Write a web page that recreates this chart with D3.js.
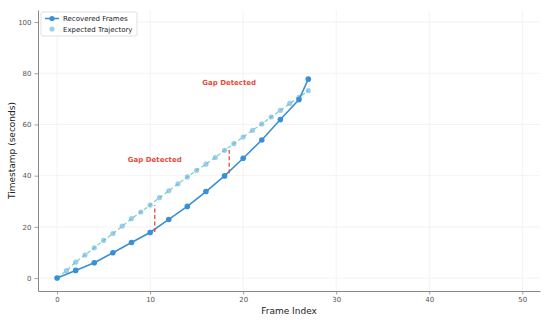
<!DOCTYPE html>
<html>
<head>
<meta charset="utf-8">
<script src="https://d3js.org/d3.v7.min.js"></script>
<style>
  body { margin: 0; background: #fff; }
  text { font-family: "DejaVu Sans", sans-serif; }
</style>
</head>
<body>
<div id="chart"></div>
<script>
// recovered frames (solid line + markers)
const recoveredX = [0, 2, 4, 6, 8, 10, 12, 14, 16, 18, 20, 22, 24, 26, 27];
const recoveredY = [0, 3, 6, 9.9, 13.9, 17.8, 22.9, 28, 33.8, 39.9, 46.8, 53.9, 61.9, 69.7, 77.7];
// expected trajectory (dashed line + scatter)
const expectedX = [0, 1, 2, 3, 4, 5, 6, 7, 8, 9, 10, 11, 12, 13, 14, 15, 16, 17, 18, 19, 20, 21, 22, 23, 24, 25, 26, 27];
const expectedY = [0, 2.9, 6.2, 9, 11.8, 14.7, 17.4, 20.3, 23.2, 25.8, 28.5, 31.4, 34.1, 36.8, 39.5, 42.1, 44.5,
                   47.1, 49.9, 52.5, 55.1, 57.7, 60.2, 62.9, 65.5, 68.2, 70.6, 73.2];
// detected gaps
const gapX = [10.5, 18.5];
const gapLow = [18, 40.9];
const gapHigh = [28.4, 50];
const gapLabelY = [46.5, 76.5];
const xTicks = [0, 10, 20, 30, 40, 50];
const yTicks = [0, 20, 40, 60, 80, 100];

const width = 550, height = 320;
const margin = {top: 10, right: 10, bottom: 29, left: 38};

const svg = d3.select("#chart").append("svg").attr("width", width).attr("height", height);

const x = d3.scaleLinear().domain([-2.05, 51.9]).range([margin.left, width - margin.right]);
const y = d3.scaleLinear().domain([-5.05, 104.7]).range([height - margin.bottom, margin.top]);

// grid
svg.append("g").selectAll("line").data(xTicks).join("line")
    .attr("x1", d => x(d)).attr("x2", d => x(d))
    .attr("y1", y.range()[0]).attr("y2", y.range()[1])
    .attr("stroke", "#ebebeb").attr("stroke-width", 0.6);
svg.append("g").selectAll("line").data(yTicks).join("line")
    .attr("y1", d => y(d)).attr("y2", d => y(d))
    .attr("x1", x.range()[0]).attr("x2", x.range()[1])
    .attr("stroke", "#ebebeb").attr("stroke-width", 0.6);

// axes
const xAxis = svg.append("g").attr("transform", `translate(0,${height - margin.bottom})`)
    .call(d3.axisBottom(x).tickValues(xTicks).tickSize(3.5).tickPadding(3).tickSizeOuter(0));
const yAxis = svg.append("g").attr("transform", `translate(${margin.left},0)`)
    .call(d3.axisLeft(y).tickValues(yTicks).tickSize(3.5).tickPadding(3).tickSizeOuter(0));
[xAxis, yAxis].forEach(a => {
    a.select(".domain").attr("stroke", "#888").attr("stroke-width", 1);
    a.selectAll(".tick line").attr("stroke", "#888").attr("stroke-width", 0.8);
    a.selectAll(".tick text").attr("fill", "#555").attr("font-size", "7px")
        .attr("font-family", "DejaVu Sans, sans-serif");
});

svg.append("text").attr("x", (x.range()[0] + x.range()[1]) / 2).attr("y", 314)
    .attr("text-anchor", "middle").attr("font-size", "9px").attr("fill", "#222").text("Frame Index");
svg.append("text").attr("transform", `translate(15,${(y.range()[0] + y.range()[1]) / 2}) rotate(-90)`)
    .attr("text-anchor", "middle").attr("font-size", "9px").attr("fill", "#222").text("Timestamp (seconds)");

// expected trajectory
const expected = expectedX.map((d, i) => [d, expectedY[i]]);
const line = d3.line().x(d => x(d[0])).y(d => y(d[1]));
svg.append("path").datum(expected).attr("fill", "none")
    .attr("stroke", "#82d9b0").attr("stroke-width", 1.3).attr("stroke-dasharray", "4,2.5").attr("d", line);
svg.append("g").selectAll("circle").data(expected.slice(1)).join("circle")
    .attr("cx", d => x(d[0])).attr("cy", d => y(d[1])).attr("r", 2.6)
    .attr("fill", "#5dade2").attr("fill-opacity", 0.6);

// recovered frames
const recovered = recoveredX.map((d, i) => [d, recoveredY[i]]);
svg.append("path").datum(recovered).attr("fill", "none")
    .attr("stroke", "#3a8fd6").attr("stroke-width", 1.6).attr("d", line);
svg.append("g").selectAll("circle").data(recovered).join("circle")
    .attr("cx", d => x(d[0])).attr("cy", d => y(d[1])).attr("r", 2.8)
    .attr("fill", "#3a8fd6");

// gaps
gapX.forEach((g, i) => {
    svg.append("line").attr("x1", x(g)).attr("x2", x(g))
        .attr("y1", y(gapLow[i])).attr("y2", y(gapHigh[i]))
        .attr("stroke", "#e74c3c").attr("stroke-width", 1.3).attr("stroke-dasharray", "4,2.5");
    svg.append("text").attr("x", x(g)).attr("y", y(gapLabelY[i]) + 2.5)
        .attr("text-anchor", "middle").attr("font-size", "7px").attr("font-weight", "bold")
        .attr("fill", "#e74c3c").text("Gap Detected");
});

// legend
const lg = svg.append("g").attr("transform", "translate(41,12)");
lg.append("rect").attr("width", 96).attr("height", 24).attr("rx", 2)
    .attr("fill", "#fff").attr("fill-opacity", 0.85).attr("stroke", "#d5d5d5").attr("stroke-width", 0.7);
lg.append("line").attr("x1", 4).attr("x2", 18).attr("y1", 6.5).attr("y2", 6.5)
    .attr("stroke", "#3a8fd6").attr("stroke-width", 1.6);
lg.append("circle").attr("cx", 11).attr("cy", 6.5).attr("r", 2.6).attr("fill", "#3a8fd6");
lg.append("circle").attr("cx", 11).attr("cy", 17).attr("r", 2.6).attr("fill", "#5dade2").attr("fill-opacity", 0.6);
lg.append("text").attr("x", 22).attr("y", 9).attr("font-size", "7px").attr("fill", "#222").text("Recovered Frames");
lg.append("text").attr("x", 22).attr("y", 19.5).attr("font-size", "7px").attr("fill", "#222").text("Expected Trajectory");
</script>
</body>
</html>
